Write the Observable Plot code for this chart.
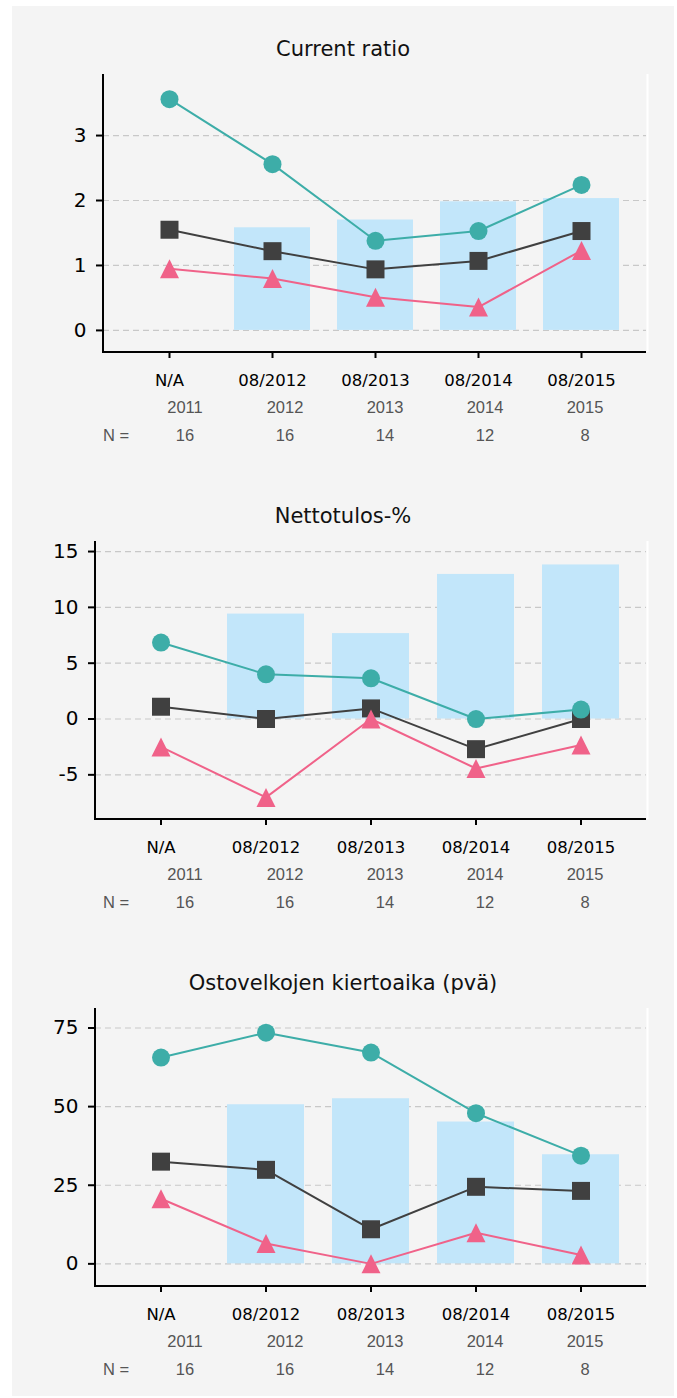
<!DOCTYPE html>
<html><head><meta charset="utf-8">
<script src="https://cdn.jsdelivr.net/npm/d3@7"></script>
<script src="https://cdn.jsdelivr.net/npm/@observablehq/plot@0.6"></script>
<style>
html,body{margin:0;padding:0;background:#fff;}
#page{position:relative;width:677px;height:1398px;overflow:hidden;}
#box{position:absolute;left:12px;top:6px;width:662px;height:1390px;background:#f4f4f4;}
.title{position:absolute;left:12px;width:662px;text-align:center;font-family:"DejaVu Sans";font-size:21px;line-height:21px;color:#111;white-space:nowrap;}
.plot{position:absolute;left:0;}
.plot svg{overflow:visible;}
.cell{position:absolute;width:100px;text-align:center;font-family:"Liberation Sans",Arial,sans-serif;font-size:16.5px;line-height:16.5px;color:#555;white-space:nowrap;}
.nlab{position:absolute;text-align:left;font-family:"Liberation Sans",Arial,sans-serif;font-size:16.5px;line-height:16.5px;color:#555;white-space:nowrap;}
</style></head><body><div id="page"><div id="box"></div></div>
<script>
// ---- data ----
const categories = ["2011","2012","2013","2014","2015"];
const dateLabels = ["N/A","08/2012","08/2013","08/2014","08/2015"];
const yearLabels = ["2011","2012","2013","2014","2015"];
const nCounts = [16,16,14,12,8];
const nLabel = "N =";

const titles = ["Current ratio","Nettotulos-%","Ostovelkojen kiertoaika (pvä)"];

const crBars   = [null,1.58,1.70,1.98,2.03];
const crUpper  = [3.56,2.56,1.38,1.53,2.24];
const crMedian = [1.55,1.22,0.94,1.07,1.53];
const crLower  = [0.95,0.80,0.51,0.36,1.23];
const crTicks  = [0,1,2,3];

const ntBars   = [null,9.4,7.65,12.95,13.8];
const ntUpper  = [6.85,4.0,3.65,0.0,0.85];
const ntMedian = [1.1,0.0,0.95,-2.7,0.0];
const ntLower  = [-2.5,-7.02,0.0,-4.43,-2.33];
const ntTicks  = [-5,0,5,10,15];

const okBars   = [null,50.6,52.5,45.1,34.7];
const okUpper  = [65.6,73.5,67.2,47.9,34.4];
const okMedian = [32.5,29.9,11.0,24.5,23.2];
const okLower  = [20.7,6.5,0.0,9.9,2.8];
const okTicks  = [0,25,50,75];

const colors = {bar:"#c2e6fa", upper:"#3dada8", median:"#404040", lower:"#f06289", grid:"#c8c8c8"};

// ---- layout ----
const panels = [
  {title:titles[0], bars:crBars, upper:crUpper, median:crMedian, lower:crLower, ticks:crTicks, domain:[-0.34,3.94], marginLeft:103, top:64},
  {title:titles[1], bars:ntBars, upper:ntUpper, median:ntMedian, lower:ntLower, ticks:ntTicks, domain:[-9.0,15.9], marginLeft:95, top:531},
  {title:titles[2], bars:okBars, upper:okUpper, median:okMedian, lower:okLower, ticks:okTicks, domain:[-7.2,81.2], marginLeft:95, top:998}
];

const triangle = {draw(ctx, size){ const r = Math.sqrt(size/Math.PI); ctx.moveTo(0,-r); ctx.lineTo(r,r); ctx.lineTo(-r,r); ctx.closePath(); }};

const W = 677, H = 330, MR = 31, MT = 10, MB = 42;
const page = document.getElementById("page");

function axisFrame(index, scales, values, dims) {
  const ns = "http://www.w3.org/2000/svg";
  const g = document.createElementNS(ns, "g");
  const x0 = dims.marginLeft, x1 = dims.width - dims.marginRight;
  const y0 = dims.marginTop, y1 = dims.height - dims.marginBottom;
  const mk = (a,b,c,d,stroke,w) => {
    const l = document.createElementNS(ns,"line");
    l.setAttribute("x1",a); l.setAttribute("y1",b); l.setAttribute("x2",c); l.setAttribute("y2",d);
    l.setAttribute("stroke",stroke); l.setAttribute("stroke-width",w);
    g.appendChild(l);
  };
  mk(x1+1.5, y0, x1+1.5, y1, "#ffffff", 2);
  mk(x0, y0, x0, y1+1, "#000", 2);
  mk(x0-1, y1, x1, y1, "#000", 2);
  return g;
}

panels.forEach((p) => {
  const rows = categories.map((c,i) => ({cat:c, bar:p.bars[i], up:p.upper[i], med:p.median[i], low:p.lower[i]}));
  const chart = Plot.plot({
    width: W, height: H,
    marginLeft: p.marginLeft, marginRight: MR, marginTop: MT, marginBottom: MB,
    style: {background:"transparent", fontFamily:"DejaVu Sans", color:"#000", overflow:"visible"},
    x: {type:"band", domain: categories, paddingInner:0.265, paddingOuter:0.2555, align:0.5, label:null},
    y: {domain: p.domain, label:null},
    marks: [
      Plot.ruleY(p.ticks, {stroke:colors.grid, strokeWidth:1.2, strokeDasharray:"6,4"}),
      Plot.barY(rows.filter(d => d.bar != null), {x:"cat", y:"bar", fill:colors.bar}),
      Plot.line(rows, {x:"cat", y:"med", stroke:colors.median, strokeWidth:2}),
      Plot.dot(rows, {x:"cat", y:"med", symbol:"square", r:10.15, fill:colors.median}),
      Plot.line(rows, {x:"cat", y:"up", stroke:colors.upper, strokeWidth:2}),
      Plot.dot(rows, {x:"cat", y:"up", symbol:"circle", r:9, fill:colors.upper}),
      Plot.line(rows, {x:"cat", y:"low", stroke:colors.lower, strokeWidth:2}),
      Plot.dot(rows, {x:"cat", y:"low", symbol:triangle, r:9.5, fill:colors.lower}),
      Plot.axisY({ticks: p.ticks, tickSize:7, tickPadding:10, fontSize:20, strokeWidth:2, label:null, tickFormat: d => String(d)}),
      Plot.axisX({tickSize:6, tickPadding:16, fontSize:16.5, strokeWidth:2, label:null, tickFormat: d => dateLabels[categories.indexOf(d)]}),
      axisFrame
    ]
  });
  const holder = document.createElement("div");
  holder.className = "plot";
  holder.style.top = p.top + "px";
  holder.appendChild(chart);
  page.appendChild(holder);

  const t = document.createElement("div");
  t.className = "title";
  t.textContent = p.title;
  t.style.top = (p.top - 7.3 - 17.8) + "px";
  page.appendChild(t);

  const axisY = p.top + H - MB;
  const yearTop = axisY + 61.3 - 14;
  const nTop = axisY + 88.7 - 14;
  yearLabels.forEach((yl, i) => {
    const c = document.createElement("div");
    c.className = "cell";
    c.style.left = (135 + 100*i) + "px";
    c.style.top = yearTop + "px";
    c.textContent = yl;
    page.appendChild(c);
    const n = document.createElement("div");
    n.className = "cell";
    n.style.left = (135 + 100*i) + "px";
    n.style.top = nTop + "px";
    n.textContent = String(nCounts[i]);
    page.appendChild(n);
  });
  const nl = document.createElement("div");
  nl.className = "nlab";
  nl.style.left = "103px";
  nl.style.top = nTop + "px";
  nl.textContent = nLabel;
  page.appendChild(nl);
});
</script></body></html>
